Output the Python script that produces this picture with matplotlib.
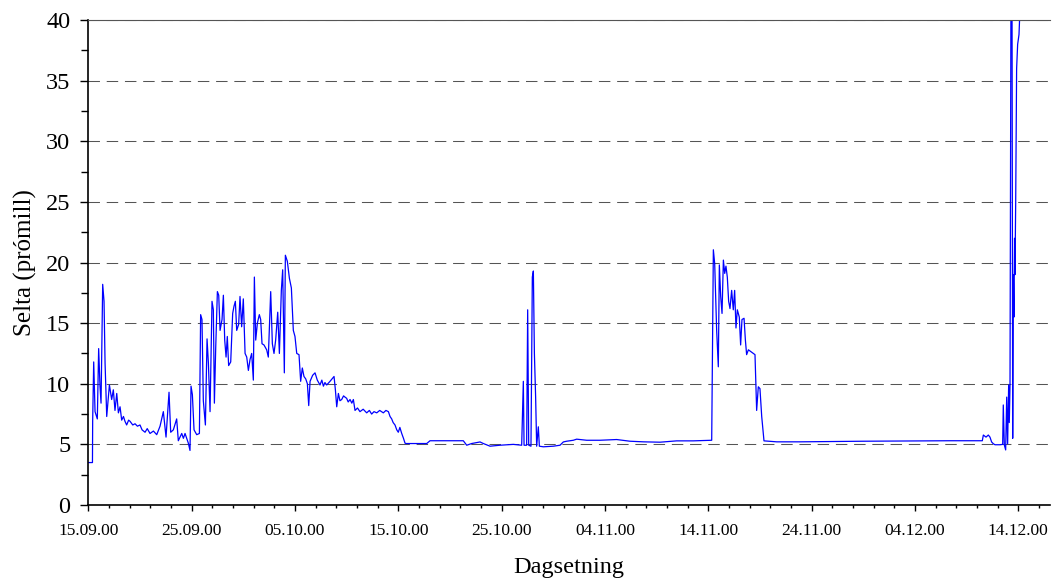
import matplotlib
matplotlib.use("Agg")
import matplotlib.pyplot as plt
import matplotlib.dates as mdates
from matplotlib.ticker import MultipleLocator
import pandas as pd

plt.rcParams['font.family'] = ['Liberation Serif', 'DejaVu Serif']

start_date = "2000-09-15"

# days since 15.09.00 and salinity (promill)
days = [
    0.00, 0.40, 0.42, 0.52, 0.65, 0.87, 1.00, 1.13, 1.23, 1.39, 1.52, 1.62, 1.78,
    2.04, 2.26, 2.42, 2.58, 2.75, 2.91, 3.07, 3.23, 3.40, 3.55, 3.71, 3.90, 4.04,
    4.30, 4.52, 4.75, 5.00, 5.20, 5.49, 5.70, 5.97, 6.30, 6.62, 6.94, 7.26, 7.52,
    7.81, 7.97, 8.23, 8.55, 8.71, 9.04, 9.20, 9.36, 9.68, 9.84, 9.94, 10.07,
    10.23, 10.49, 10.75, 10.87, 11.00, 11.13, 11.33,
    11.49, 11.62, 11.78, 11.97, 12.10, 12.20, 12.33, 12.49, 12.62, 12.75, 12.94,
    13.07, 13.20, 13.33, 13.45, 13.58, 13.78, 13.97, 14.10, 14.23, 14.36, 14.55,
    14.68, 14.84, 15.00, 15.17, 15.33, 15.49, 15.65, 15.81, 15.97, 16.07, 16.20,
    16.36, 16.55, 16.68, 16.81, 17.00, 17.26, 17.42, 17.65, 17.81, 17.97, 18.13,
    18.33, 18.49, 18.68, 18.81, 18.97, 19.07, 19.26, 19.46, 19.65, 19.84, 20.00,
    20.17, 20.39, 20.55, 20.71, 20.87, 21.04, 21.20, 21.33, 21.46, 21.71, 21.94,
    22.16, 22.42, 22.60, 22.75, 22.90, 23.07, 23.39, 23.78, 23.91, 24.04, 24.20,
    24.35, 24.52, 24.70, 24.84, 25.00, 25.15, 25.33, 25.50, 25.65, 25.81, 26.05,
    26.29, 26.60, 26.94, 27.20, 27.42, 27.65, 27.91, 28.20, 28.55, 28.80, 29.04,
    29.20, 29.36, 29.50, 29.68, 29.85, 30.00, 30.15, 30.33, 30.50, 30.65, 30.75,
    32.75, 33.07, 36.29, 36.62, 37.10, 37.91,
    38.23, 38.88, 39.84, 41.13, 41.94, 42.10, 42.17, 42.42, 42.52, 42.62, 42.84,
    42.97, 43.07, 43.17, 43.29, 43.39, 43.55, 43.65, 44.04, 45.00, 45.65, 45.97,
    46.29, 46.94, 47.26, 48.23, 49.52, 51.13, 52.42, 53.71, 55.33, 56.94, 58.55,
    60.33, 60.49, 60.62, 60.81, 60.97, 61.07, 61.20, 61.33, 61.46, 61.59, 61.71,
    61.84, 61.97, 62.10, 62.26, 62.42, 62.55, 62.68, 62.81, 63.00, 63.13, 63.26,
    63.46, 63.59, 63.71, 63.88, 64.20, 64.52, 64.68, 64.84, 65.00, 65.17, 65.39,
    66.62, 68.88, 75.00, 83.39, 86.52, 86.62, 86.88, 87.10, 87.26, 87.42, 87.59,
    87.75, 88.23, 88.49, 88.55, 88.65, 88.78, 88.88, 88.97, 89.07, 89.13, 89.20,
    89.30, 89.39, 89.46, 89.52, 89.58, 89.64, 89.68, 89.75, 89.84, 89.94, 90.07,
    90.17,
]
selta = [
    3.5, 3.5, 6.9, 11.8, 7.7, 7.1, 12.9, 9.8, 8.4, 18.2, 16.8, 11.7, 7.3,
    9.9, 8.7, 9.5, 7.8, 9.2, 7.6, 8.1, 7.0, 7.3, 6.9, 6.6, 7.0, 6.9,
    6.6, 6.7, 6.5, 6.6, 6.2, 6.0, 6.3, 5.9, 6.1, 5.8, 6.5, 7.7, 5.6,
    9.3, 6.0, 6.2, 7.1, 5.3, 5.9, 5.5, 5.9, 5.1, 4.5, 9.8, 9.1,
    6.2, 5.8, 5.9, 15.7, 15.3, 8.6, 6.6,
    13.7, 11.7, 7.7, 16.8, 16.1, 8.4, 13.0, 17.6, 17.3, 14.4, 15.3,
    17.3, 13.6, 12.2, 13.9, 11.5, 11.8, 15.8, 16.4, 16.8, 14.4, 14.9,
    17.2, 14.7, 17.0, 12.5, 12.2, 11.1, 12.0, 12.5, 10.3, 18.8, 13.6,
    15.0, 15.7, 15.3, 13.3, 13.2, 12.8, 12.2, 17.6, 13.3, 12.5, 13.6,
    15.9, 12.5, 17.7, 19.4, 10.9, 20.6, 20.1, 18.7, 17.9, 14.4, 13.9,
    12.5, 12.4, 10.2, 11.3, 10.6, 10.4, 10.0, 8.2, 10.2, 10.7, 10.9,
    10.3, 9.9, 10.3, 9.8, 10.1, 9.9, 10.2, 10.6, 9.5, 8.1, 9.2,
    8.6, 8.7, 9.0, 8.9, 8.8, 8.5, 8.7, 8.4, 8.7, 7.8, 8.0,
    7.7, 7.9, 7.6, 7.8, 7.5, 7.7, 7.6, 7.8, 7.6, 7.8, 7.7,
    7.3, 7.1, 6.8, 6.6, 6.2, 6.0, 6.4, 5.9, 5.5, 5.1, 5.07,
    5.07, 5.3, 5.3, 4.93, 5.07, 5.2,
    5.07, 4.85, 4.93, 5.0, 4.93, 10.2, 4.93, 4.93, 16.1, 4.93, 4.85,
    18.8, 19.3, 12.5, 8.9, 4.85, 6.45, 4.85, 4.8, 4.85, 4.93, 5.2,
    5.26, 5.34, 5.43, 5.34, 5.34, 5.4, 5.26, 5.21, 5.18, 5.29, 5.29,
    5.34, 21.05, 19.9, 14.4, 11.4, 19.8, 17.2, 15.8, 20.2, 19.1, 19.7,
    18.8, 16.8, 16.2, 17.7, 16.1, 17.7, 14.6, 16.1, 15.5, 13.2, 15.3,
    15.4, 13.6, 12.4, 12.8, 12.6, 12.4, 7.8, 9.75, 9.6, 7.3, 5.29,
    5.21, 5.21, 5.26, 5.3, 5.3, 5.77, 5.6, 5.77, 5.6, 5.2, 5.05,
    4.97, 4.97, 5.0, 8.25, 4.95, 4.54, 8.9, 5.05, 9.9, 6.8, 9.9,
    45.0, 45.0, 5.5, 19.0, 15.5, 22.0, 19.0, 25.0, 36.0, 38.0, 38.8,
    41.0,
]

dates = pd.Timestamp(start_date) + pd.to_timedelta(days, unit="D")

fig = plt.figure(figsize=(10.54, 5.82), dpi=100)
ax = fig.add_axes((0.0838, 0.1323, 0.9124, 0.8333))

ax.plot(dates, selta, color="#0000ff", lw=0.9)

ax.set_ylim(0, 40)
ax.set_xlim(pd.Timestamp(start_date), pd.Timestamp(start_date) + pd.Timedelta(days=93.07))

ax.yaxis.set_major_locator(MultipleLocator(5))
ax.yaxis.set_minor_locator(MultipleLocator(2.5))
ax.xaxis.set_major_locator(MultipleLocator(10, offset=5))
ax.xaxis.set_minor_locator(MultipleLocator(2, offset=1))
ax.xaxis.set_major_formatter(mdates.DateFormatter("%d.%m.%y"))

ax.grid(axis="y", which="major", color="#555555", lw=0.75, linestyle=(0, (11, 6.5)))
ax.set_axisbelow(True)

ax.spines["right"].set_visible(False)
ax.spines["top"].set_color("#555555")
ax.spines["left"].set_linewidth(1.2)
ax.spines["bottom"].set_linewidth(1.2)

ax.tick_params(axis="y", which="major", direction="out", length=6, width=1, labelsize=17.5, pad=7)
ax.tick_params(axis="y", which="minor", direction="out", length=5, width=1)
ax.tick_params(axis="x", which="major", direction="out", length=4, width=1, labelsize=12.5, pad=9)
ax.tick_params(axis="x", which="minor", direction="out", length=2.5, width=1)

ax.set_ylabel("Selta (prómill)", fontsize=18, labelpad=6)
ax.set_xlabel("Dagsetning", fontsize=17.5, labelpad=13)

fig.savefig("out.png", dpi=100)
